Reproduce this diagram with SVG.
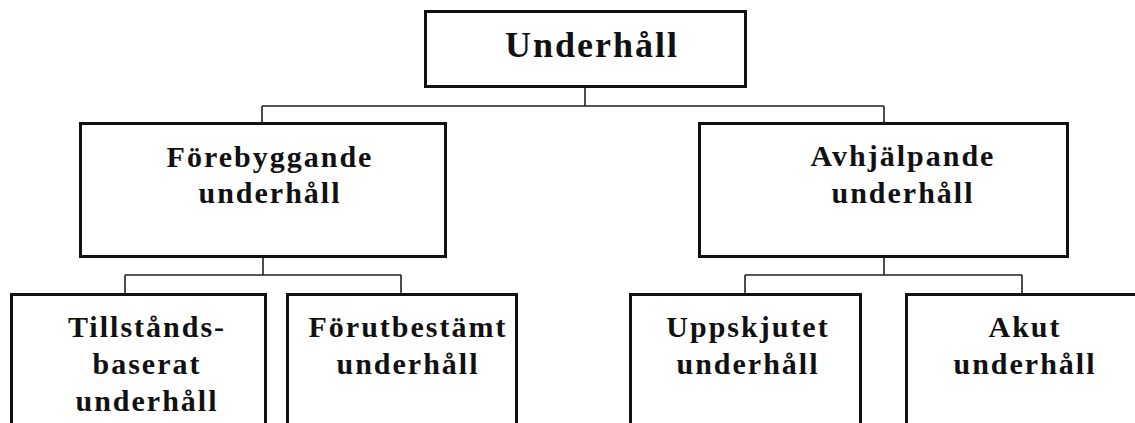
<svg xmlns="http://www.w3.org/2000/svg" width="1135" height="423" viewBox="0 0 1135 423">
  <style>
    .box { fill: #ffffff; stroke: #111111; stroke-width: 3; }
    .link { fill: none; stroke: #222222; stroke-width: 1.6; }
    .lbl { font-family: "Liberation Serif", "Times New Roman", serif; font-weight: bold; font-size: 30px; letter-spacing: 2px; fill: #111111; text-anchor: middle; }
    .big { font-size: 36px; }
  </style>
  <rect width="1135" height="423" fill="#ffffff"/>

  <g id="connectors">
    <path class="link" d="M585 88 V106 M262 106 H884 M262 106 V122 M884 106 V122"/>
    <path class="link" d="M263 258 V275 M125 275 H401 M125 275 V293 M401 275 V293"/>
    <path class="link" d="M884 258 V275 M745 275 H1022 M745 275 V293 M1022 275 V293"/>
  </g>

  <g id="underhall">
    <rect class="box" x="425.5" y="11.5" width="320" height="75"/>
    <text class="lbl big" x="592" y="57">Underhåll</text>
  </g>

  <g id="forebyggande">
    <rect class="box" x="80.5" y="123.5" width="365" height="133"/>
    <text class="lbl" x="270" y="167">Förebyggande</text>
    <text class="lbl" x="270" y="203">underhåll</text>
  </g>

  <g id="avhjalpande">
    <rect class="box" x="699.5" y="123.5" width="368" height="133"/>
    <text class="lbl" x="903" y="166">Avhjälpande</text>
    <text class="lbl" x="903" y="203">underhåll</text>
  </g>

  <g id="tillstandsbaserat">
    <rect class="box" x="11.5" y="294.5" width="254" height="150"/>
    <text class="lbl" x="147" y="337">Tillstånds-</text>
    <text class="lbl" x="147" y="374">baserat</text>
    <text class="lbl" x="147" y="411">underhåll</text>
  </g>

  <g id="forutbestamt">
    <rect class="box" x="287.5" y="294.5" width="229" height="150"/>
    <text class="lbl" x="408" y="337">Förutbestämt</text>
    <text class="lbl" x="408" y="374">underhåll</text>
  </g>

  <g id="uppskjutet">
    <rect class="box" x="630.5" y="294.5" width="230" height="150"/>
    <text class="lbl" x="748" y="337">Uppskjutet</text>
    <text class="lbl" x="748" y="374">underhåll</text>
  </g>

  <g id="akut">
    <rect class="box" x="906.5" y="294.5" width="232" height="150"/>
    <text class="lbl" x="1025" y="337">Akut</text>
    <text class="lbl" x="1025" y="374">underhåll</text>
  </g>
</svg>
